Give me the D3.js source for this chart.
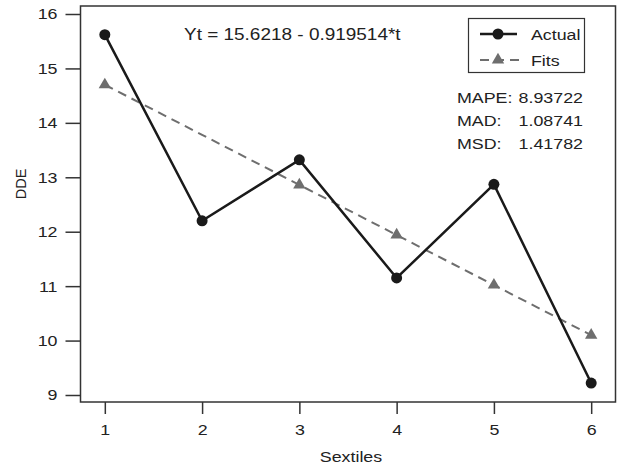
<!DOCTYPE html>
<html>
<head>
<meta charset="utf-8">
<script src="https://cdn.jsdelivr.net/npm/d3@7"></script>
<style>
  body { margin: 0; background: #fff; }
  text { font-family: "Liberation Sans", Arial, sans-serif; fill: #222; }
</style>
</head>
<body>
<div id="chart"></div>
<script>
var width = 617,
    height = 466;

// data
var sextiles = [1, 2, 3, 4, 5, 6];
var actual = [15.62, 12.2, 13.32, 11.15, 12.87, 9.22];
var fits = [14.70, 13.78, 12.86, 11.94, 11.02, 10.10];
var fitMarked = [true, false, true, true, true, true]; // no triangle shows at t=2
var yTicks = [9, 10, 11, 12, 13, 14, 15, 16];
var equation = "Yt = 15.6218 - 0.919514*t";
var statNames = ["MAPE:", "MAD:", "MSD:"];
var statValues = ["8.93722", "1.08741", "1.41782"];

var plot = {left: 80.5, right: 615.5, top: 6, bottom: 402};
var fs = 15.5,   // font size
    sx = 1.15;   // reference text looks stretched sideways

var svg = d3.select("#chart").append("svg")
    .attr("width", width)
    .attr("height", height);

var x = d3.scaleLinear()
    .domain([0.75, 6.25])
    .range([plot.left, plot.right]);

var y = d3.scaleLinear()
    .domain([9, 16])
    .range([395, 14]);

// widen text around its anchor point
function stretch(sel) {
  sel.each(function() {
    var t = d3.select(this);
    var ax = +t.attr("x") || 0;
    t.attr("transform", "translate(" + ax + ",0) scale(" + sx + ",1) translate(" + (-ax) + ",0)");
  });
}

function label(px, py, str, anchor, size) {
  return svg.append("text")
      .attr("x", px)
      .attr("y", py)
      .attr("font-size", size || fs)
      .attr("text-anchor", anchor || "start")
      .text(str)
      .call(stretch);
}

// frame
svg.append("rect")
    .attr("x", plot.left)
    .attr("y", plot.top)
    .attr("width", plot.right - plot.left)
    .attr("height", plot.bottom - plot.top)
    .attr("fill", "none")
    .attr("stroke", "#333")
    .attr("stroke-width", 1.5);

// axes
var xAxis = svg.append("g")
    .attr("transform", "translate(0," + plot.bottom + ")")
    .call(d3.axisBottom(x).tickValues(sextiles).tickSize(12).tickPadding(10).tickFormat(d3.format("d")));

var yAxis = svg.append("g")
    .attr("transform", "translate(" + plot.left + ",0)")
    .call(d3.axisLeft(y).tickValues(yTicks).tickSize(15).tickPadding(8).tickFormat(d3.format("d")));

[xAxis, yAxis].forEach(function(g) {
  g.select(".domain").remove();
  g.selectAll(".tick line").attr("stroke", "#333").attr("stroke-width", 1.5);
  g.selectAll(".tick text")
      .attr("font-size", fs)
      .attr("font-family", "Liberation Sans, Arial, sans-serif")
      .attr("fill", "#222")
      .call(stretch);
});

// axis titles
label(351, 462, "Sextiles", "middle");

svg.append("text")
    .attr("transform", "translate(26,184) rotate(-90)")
    .attr("text-anchor", "middle")
    .attr("font-size", 14.5)
    .text("DDE");

// fits line
var line = d3.line()
    .x(function(d, i) { return x(sextiles[i]); })
    .y(function(d) { return y(d); });

svg.append("path")
    .datum(fits)
    .attr("d", line)
    .attr("fill", "none")
    .attr("stroke", "#6e6e6e")
    .attr("stroke-width", 2)
    .attr("stroke-dasharray", "9,6");

var tri = d3.symbol().type(d3.symbolTriangle).size(66);

svg.selectAll(".fit")
    .data(fits.map(function(d, i) { return {t: sextiles[i], v: d, on: fitMarked[i]}; })
              .filter(function(d) { return d.on; }))
  .enter().append("path")
    .attr("class", "fit")
    .attr("d", tri)
    .attr("fill", "#6e6e6e")
    .attr("transform", function(d) {
      return "translate(" + x(d.t) + "," + y(d.v) + ")";
    });

// actual line
svg.append("path")
    .datum(actual)
    .attr("d", line)
    .attr("fill", "none")
    .attr("stroke", "#1a1a1a")
    .attr("stroke-width", 2.5);

svg.selectAll(".actual")
    .data(actual)
  .enter().append("circle")
    .attr("class", "actual")
    .attr("cx", function(d, i) { return x(sextiles[i]); })
    .attr("cy", function(d) { return y(d); })
    .attr("r", 5.5)
    .attr("fill", "#1a1a1a");

// equation
label(184, 40, equation, "start", 16.5);

// legend
svg.append("rect")
    .attr("x", 468.5)
    .attr("y", 18.5)
    .attr("width", 116)
    .attr("height", 54)
    .attr("fill", "#fff")
    .attr("stroke", "#333")
    .attr("stroke-width", 1.2);

svg.append("line")
    .attr("x1", 480).attr("x2", 517)
    .attr("y1", 34).attr("y2", 34)
    .attr("stroke", "#1a1a1a")
    .attr("stroke-width", 2.5);

svg.append("circle")
    .attr("cx", 498).attr("cy", 34).attr("r", 5.5)
    .attr("fill", "#1a1a1a");

svg.append("line")
    .attr("x1", 480).attr("x2", 524)
    .attr("y1", 60).attr("y2", 60)
    .attr("stroke", "#6e6e6e")
    .attr("stroke-width", 2)
    .attr("stroke-dasharray", "9,6");

svg.append("path")
    .attr("d", tri)
    .attr("fill", "#6e6e6e")
    .attr("transform", "translate(498,60)");

label(531, 40, "Actual");
label(531, 66, "Fits");

// accuracy measures
var statY = [103, 126, 149];

statNames.forEach(function(d, i) { label(457, statY[i], d); });
statValues.forEach(function(d, i) { label(583, statY[i], d, "end"); });
</script>
</body>
</html>
